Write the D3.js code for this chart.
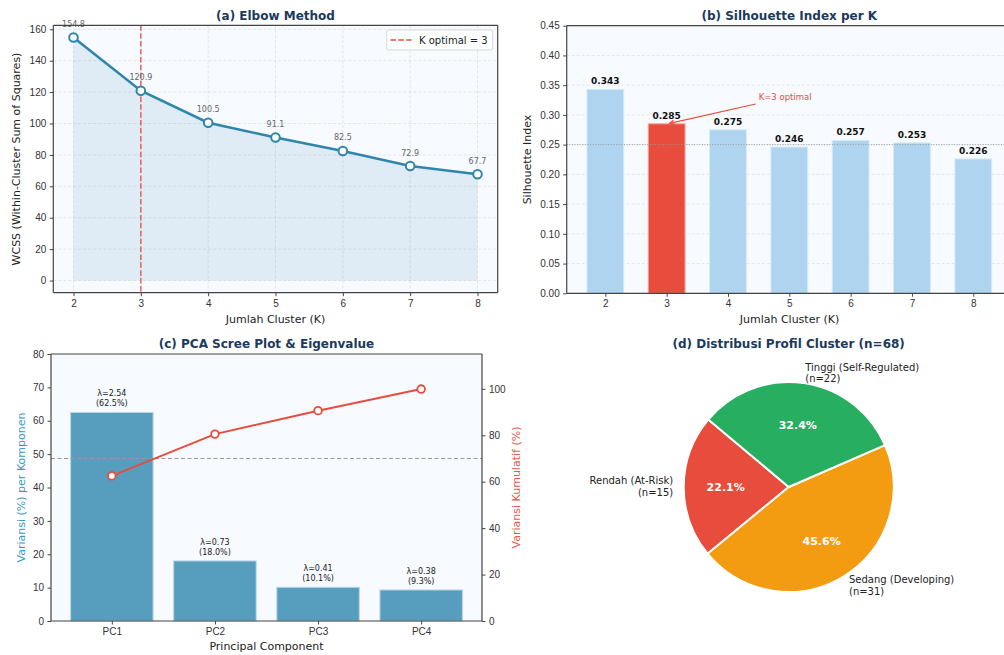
<!DOCTYPE html>
<html>
<head>
<meta charset="utf-8">
<script src="https://cdn.jsdelivr.net/npm/d3@7"></script>
<style>
  html, body { margin: 0; padding: 0; background: #fff; }
  svg { display: block; font-family: "DejaVu Sans", sans-serif; }
  .tick text { fill: #333; }
</style>
</head>
<body>
<svg id="fig" width="1004" height="655"></svg>
<script>
// ---- data ----
const kValues = [2, 3, 4, 5, 6, 7, 8];
const wcss = [154.8, 120.9, 100.5, 91.1, 82.5, 72.9, 67.7];
const silhouette = [0.343, 0.285, 0.275, 0.246, 0.257, 0.253, 0.226];
const kOptimal = 3;
const silhouetteRef = 0.25;

const components = ["PC1", "PC2", "PC3", "PC4"];
const eigenvalues = [2.54, 0.73, 0.41, 0.38];
const varianceRatio = [62.5, 18.0, 10.1, 9.3];
const cumulativeThreshold = 70;

const clusterNames = ["Rendah (At-Risk)", "Sedang (Developing)", "Tinggi (Self-Regulated)"];
const clusterCounts = [15, 31, 22];
const clusterColors = ["#e74c3c", "#f39c12", "#27ae60"];

// ---- style ----
const TITLE = "#1b3a5c";
const AX_BG = "#f7faff";
const SPINE = "#444";
const BLUE = "#2e86ab";
const RED = "#e74c3c";

const svg = d3.select("#fig");

function styleAxis(g) {
  g.select(".domain").remove();
  g.selectAll(".tick line").attr("stroke", SPINE).attr("stroke-width", 1);
  g.selectAll(".tick text").attr("font-size", 10).attr("fill", "#333");
}

function frame(x0, x1, y0, y1, sides) {
  const g = svg.append("g");
  const s = sides || { top: true, right: true, bottom: true, left: true };
  const lw = 1.2;
  if (s.top) g.append("line").attr("x1", x0).attr("x2", x1).attr("y1", y0).attr("y2", y0);
  if (s.bottom) g.append("line").attr("x1", x0).attr("x2", x1).attr("y1", y1).attr("y2", y1);
  if (s.left) g.append("line").attr("x1", x0).attr("x2", x0).attr("y1", y0).attr("y2", y1);
  if (s.right) g.append("line").attr("x1", x1).attr("x2", x1).attr("y1", y0).attr("y2", y1);
  g.selectAll("line").attr("stroke", SPINE).attr("stroke-width", lw);
}

function title(text, x, y) {
  svg.append("text").attr("x", x).attr("y", y).attr("text-anchor", "middle")
    .attr("font-size", 12).attr("font-weight", "bold").attr("fill", TITLE).text(text);
}

function axisLabel(text, x, y, rotate, color) {
  const t = svg.append("text").attr("text-anchor", "middle").attr("font-size", 11)
    .attr("fill", color || "#222").text(text);
  if (rotate) t.attr("transform", `translate(${x},${y}) rotate(-90)`).attr("dy", "0.35em");
  else t.attr("x", x).attr("y", y).attr("dy", "0.35em");
}

// ================= (a) Elbow Method =================
{
  const L = 53.3, R = 497.7, T = 25.3, B = 292.7;
  const x = d3.scaleLinear().domain([1.7, 8.3]).range([L, R]);
  const y = d3.scaleLinear().domain([-7.74, 162.54]).range([B, T]);

  svg.append("rect").attr("x", L).attr("y", T).attr("width", R - L).attr("height", B - T).attr("fill", AX_BG);

  const grid = svg.append("g").attr("stroke", "#c8ccd2").attr("stroke-opacity", 0.55)
    .attr("stroke-dasharray", "3,2").attr("stroke-width", 0.8);
  kValues.forEach(k => grid.append("line").attr("x1", x(k)).attr("x2", x(k)).attr("y1", T).attr("y2", B));
  d3.range(0, 161, 20).forEach(v => grid.append("line").attr("x1", L).attr("x2", R).attr("y1", y(v)).attr("y2", y(v)));

  const pts = kValues.map((k, i) => [k, wcss[i]]);
  svg.append("path").datum(pts)
    .attr("d", d3.area().x(d => x(d[0])).y0(y(0)).y1(d => y(d[1])))
    .attr("fill", BLUE).attr("fill-opacity", 0.12);

  svg.append("line").attr("x1", x(kOptimal)).attr("x2", x(kOptimal)).attr("y1", T).attr("y2", B)
    .attr("stroke", RED).attr("stroke-width", 1.5).attr("stroke-dasharray", "5.5,2.4").attr("stroke-opacity", 0.85);

  svg.append("path").datum(pts)
    .attr("d", d3.line().x(d => x(d[0])).y(d => y(d[1])))
    .attr("fill", "none").attr("stroke", BLUE).attr("stroke-width", 2.5);

  svg.append("g").selectAll("circle").data(pts).join("circle")
    .attr("cx", d => x(d[0])).attr("cy", d => y(d[1])).attr("r", 4.3)
    .attr("fill", "#fff").attr("stroke", BLUE).attr("stroke-width", 2);

  svg.append("g").selectAll("text").data(pts).join("text")
    .attr("x", d => x(d[0])).attr("y", d => y(d[1]) - 10.5)
    .attr("text-anchor", "middle").attr("font-size", 8).attr("fill", "#666")
    .text(d => d[1].toFixed(1));

  svg.append("g").attr("transform", `translate(0,${B})`)
    .call(d3.axisBottom(x).tickValues(kValues).tickSize(3.5).tickPadding(3.5).tickFormat(d3.format("d")))
    .call(styleAxis);
  svg.append("g").attr("transform", `translate(${L},0)`)
    .call(d3.axisLeft(y).tickValues(d3.range(0, 161, 20)).tickSize(3.5).tickPadding(3.5))
    .call(styleAxis);
  frame(L, R, T, B);

  // legend
  const lg = svg.append("g");
  lg.append("rect").attr("x", 386.7).attr("y", 30).attr("width", 106).attr("height", 20)
    .attr("rx", 2).attr("fill", "#fff").attr("fill-opacity", 0.85).attr("stroke", "#d8d8d8");
  lg.append("line").attr("x1", 390.5).attr("x2", 411.5).attr("y1", 40).attr("y2", 40)
    .attr("stroke", RED).attr("stroke-width", 1.5).attr("stroke-dasharray", "5.5,2.4");
  lg.append("text").attr("x", 419).attr("y", 40).attr("dy", "0.35em").attr("font-size", 10)
    .attr("fill", "#222").text("K optimal = 3");

  title("(a) Elbow Method", (L + R) / 2, 20);
  axisLabel("Jumlah Cluster (K)", (L + R) / 2, 319.5);
  axisLabel("WCSS (Within-Cluster Sum of Squares)", 15.7, (T + B) / 2, true);
}

// ================= (b) Silhouette Index =================
{
  const L = 566.7, R = 1011.9, T = 25.7, B = 293.3;
  const x = d3.scaleLinear().domain([1.37, 8.63]).range([L, R]);
  const y = d3.scaleLinear().domain([0, 0.45]).range([B, T]);
  const bw = x(0.6) - x(0);

  svg.append("rect").attr("x", L).attr("y", T).attr("width", R - L).attr("height", B - T).attr("fill", AX_BG);

  const grid = svg.append("g").attr("stroke", "#c8ccd2").attr("stroke-opacity", 0.55)
    .attr("stroke-dasharray", "3,2").attr("stroke-width", 0.8);
  d3.range(0, 0.451, 0.05).forEach(v => grid.append("line").attr("x1", L).attr("x2", R).attr("y1", y(v)).attr("y2", y(v)));

  const data = kValues.map((k, i) => ({ k, v: silhouette[i] }));
  svg.append("g").selectAll("rect").data(data).join("rect")
    .attr("x", d => x(d.k) - bw / 2).attr("width", bw)
    .attr("y", d => y(d.v)).attr("height", d => y(0) - y(d.v))
    .attr("fill", d => d.k === kOptimal ? RED : "#aed4ef")
    .attr("stroke", d => d.k === kOptimal ? "#f2a59c" : "#d6ebf8").attr("stroke-width", 1);

  svg.append("line").attr("x1", L).attr("x2", R).attr("y1", y(silhouetteRef)).attr("y2", y(silhouetteRef))
    .attr("stroke", "#999").attr("stroke-width", 1).attr("stroke-dasharray", "1,1.6");

  svg.append("g").selectAll("text").data(data).join("text")
    .attr("x", d => x(d.k)).attr("y", d => y(d.v) - 5)
    .attr("text-anchor", "middle").attr("font-size", 9).attr("font-weight", "bold").attr("fill", "#111")
    .text(d => d.v.toFixed(3));

  // annotation
  const optV = silhouette[kValues.indexOf(kOptimal)];
  const tx = x(4.5), ty = y(0.32);
  svg.append("text").attr("x", tx).attr("y", ty - 3).attr("font-size", 8.5).attr("fill", RED).text("K=3 optimal");
  const ax0 = tx - 3, ay0 = ty + 1, ax1 = x(kOptimal) + 3, ay1 = y(optV) - 0.5;
  svg.append("line").attr("x1", ax0).attr("y1", ay0).attr("x2", ax1).attr("y2", ay1)
    .attr("stroke", RED).attr("stroke-width", 1.2);
  const ang = Math.atan2(ay0 - ay1, ax0 - ax1);
  const hl = 5, hw = 0.45;
  svg.append("path")
    .attr("d", `M${ax1 + hl * Math.cos(ang + hw)},${ay1 + hl * Math.sin(ang + hw)}L${ax1},${ay1}L${ax1 + hl * Math.cos(ang - hw)},${ay1 + hl * Math.sin(ang - hw)}`)
    .attr("fill", "none").attr("stroke", RED).attr("stroke-width", 1.2);

  svg.append("g").attr("transform", `translate(0,${B})`)
    .call(d3.axisBottom(x).tickValues(kValues).tickSize(3.5).tickPadding(3.5).tickFormat(d3.format("d")))
    .call(styleAxis);
  svg.append("g").attr("transform", `translate(${L},0)`)
    .call(d3.axisLeft(y).tickValues(d3.range(0, 0.451, 0.05)).tickSize(3.5).tickPadding(3.5).tickFormat(d3.format(".2f")))
    .call(styleAxis);
  frame(L, R, T, B, { top: true, bottom: true, left: true, right: false });

  title("(b) Silhouette Index per K", (L + R) / 2, 20);
  axisLabel("Jumlah Cluster (K)", 789.5, 319.5);
  axisLabel("Silhouette Index", 527, (T + B) / 2, true);
}

// ================= (c) PCA Scree Plot =================
{
  const L = 51, R = 482, T = 354, B = 621;
  const x = d3.scaleLinear().domain([-0.59, 3.59]).range([L, R]);
  const yL = d3.scaleLinear().domain([0, 80]).range([B, T]);
  const yR = d3.scaleLinear().domain([0, 115]).range([B, T]);
  const bw = x(0.8) - x(0);
  const cumulative = Array.from(d3.cumsum(varianceRatio));

  svg.append("rect").attr("x", L).attr("y", T).attr("width", R - L).attr("height", B - T).attr("fill", AX_BG);

  const data = components.map((c, i) => ({ i, c, v: varianceRatio[i], e: eigenvalues[i], cum: cumulative[i] }));
  svg.append("g").selectAll("rect").data(data).join("rect")
    .attr("x", d => x(d.i) - bw / 2).attr("width", bw)
    .attr("y", d => yL(d.v)).attr("height", d => yL(0) - yL(d.v))
    .attr("fill", "#579dbd").attr("stroke", "#b9d9e9").attr("stroke-width", 1);

  const lbl = svg.append("g").attr("font-size", 8).attr("fill", "#222").attr("text-anchor", "middle");
  data.forEach(d => {
    lbl.append("text").attr("x", x(d.i)).attr("y", yL(d.v) - 16).text(`λ=${d.e.toFixed(2)}`);
    lbl.append("text").attr("x", x(d.i)).attr("y", yL(d.v) - 6).text(`(${d.v.toFixed(1)}%)`);
  });

  svg.append("line").attr("x1", L).attr("x2", R).attr("y1", yR(cumulativeThreshold)).attr("y2", yR(cumulativeThreshold))
    .attr("stroke", "#999").attr("stroke-width", 1).attr("stroke-dasharray", "4,2.5");

  svg.append("path").datum(data)
    .attr("d", d3.line().x(d => x(d.i)).y(d => yR(d.cum)))
    .attr("fill", "none").attr("stroke", RED).attr("stroke-width", 2);
  svg.append("g").selectAll("circle").data(data).join("circle")
    .attr("cx", d => x(d.i)).attr("cy", d => yR(d.cum)).attr("r", 3.8)
    .attr("fill", "#fff").attr("stroke", RED).attr("stroke-width", 1.8);

  svg.append("g").attr("transform", `translate(0,${B})`)
    .call(d3.axisBottom(x).tickValues(d3.range(components.length)).tickSize(3.5).tickPadding(3.5).tickFormat(i => components[i]))
    .call(styleAxis);
  svg.append("g").attr("transform", `translate(${L},0)`)
    .call(d3.axisLeft(yL).tickValues(d3.range(0, 81, 10)).tickSize(3.5).tickPadding(3.5))
    .call(styleAxis);
  svg.append("g").attr("transform", `translate(${R},0)`)
    .call(d3.axisRight(yR).tickValues(d3.range(0, 101, 20)).tickSize(3.5).tickPadding(3.5))
    .call(styleAxis);
  frame(L, R, T, B);

  title("(c) PCA Scree Plot & Eigenvalue", (L + R) / 2, 347.5);
  axisLabel("Principal Component", (L + R) / 2, 646.5);
  axisLabel("Variansi (%) per Komponen", 21.5, (T + B) / 2, true, "#3a98c2");
  axisLabel("Variansi Kumulatif (%)", 516.5, (T + B) / 2, true, "#e8584a");
}

// ================= (d) Pie =================
{
  const cx = 788.7, cy = 487, r = 105;
  const total = d3.sum(clusterCounts);
  const toRad = deg => deg * Math.PI / 180;
  // start at 140° (counter-clockwise from +x) and run counter-clockwise
  const pie = d3.pie().sort(null).value(d => d.n)
    .startAngle(toRad(90 - 140)).endAngle(toRad(90 - 140 - 360));
  const data = clusterNames.map((name, i) => ({ name, n: clusterCounts[i], color: clusterColors[i] }));
  const arcs = pie(data);

  const g = svg.append("g").attr("transform", `translate(${cx},${cy})`);
  g.selectAll("path").data(arcs).join("path")
    .attr("d", d3.arc().innerRadius(0).outerRadius(r))
    .attr("fill", d => d.data.color).attr("stroke", "#fff").attr("stroke-width", 2).attr("stroke-linejoin", "round");

  const pctArc = d3.arc().innerRadius(0.6 * r).outerRadius(0.6 * r);
  g.selectAll("text.pct").data(arcs).join("text").attr("class", "pct")
    .attr("transform", d => `translate(${pctArc.centroid(d)})`)
    .attr("text-anchor", "middle").attr("dy", "0.36em")
    .attr("font-size", 11).attr("font-weight", "bold").attr("fill", "#fff")
    .text(d => (d.data.n / total * 100).toFixed(1) + "%");

  const outArc = d3.arc().innerRadius(1.1 * r).outerRadius(1.1 * r);
  arcs.forEach(d => {
    const [px, py] = outArc.centroid(d);
    const anchor = px >= 0 ? "start" : "end";
    const t = g.append("text").attr("text-anchor", anchor).attr("font-size", 10).attr("fill", "#222");
    t.append("tspan").attr("x", px).attr("y", py - 5.7).attr("dy", "0.35em").text(d.data.name);
    t.append("tspan").attr("x", px).attr("y", py + 5.7).attr("dy", "0.35em").text(`(n=${d.data.n})`);
  });

  title("(d) Distribusi Profil Cluster (n=68)", cx, 347.5);
}
</script>
</body>
</html>
